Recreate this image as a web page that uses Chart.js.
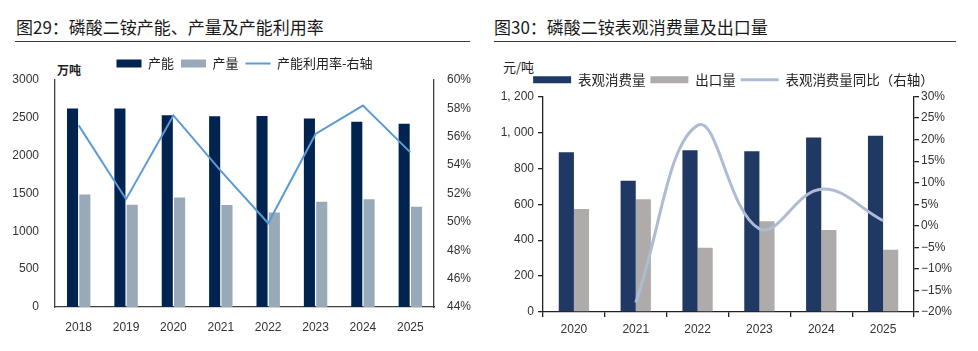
<!DOCTYPE html>
<html>
<head>
  <meta charset="utf-8">
  <title>磷酸二铵产能、产量及表观消费量</title>
  <style>
    body { margin: 0; background: #fff; font-family: "Liberation Sans", "Noto Sans CJK SC", sans-serif; }
    .page { position: relative; width: 978px; height: 351px; overflow: hidden; }
    .title { position: absolute; top: 14px; font-family: "Noto Sans CJK SC", sans-serif; font-size: 17px; color: #1a1a1a; white-space: nowrap; }
    .rule { position: absolute; top: 41px; height: 0; border-top: 1.3px solid #3a3a3a; }
    .unit { position: absolute; font-family: "Noto Sans CJK SC", sans-serif; font-size: 12px; color: #222; }
    .box { position: absolute; top: 50px; width: 489px; height: 301px; }
  </style>
</head>
<body>
  <div class="page">
    <div class="title" style="left:16px;">图29：磷酸二铵产能、产量及产能利用率</div>
    <div class="rule" style="left:15px; width:455px;"></div>
    <div class="unit" style="left:57px; top:61px; font-weight:bold;">万吨</div>
    <div class="box" style="left:0;"><canvas id="chartLeft"></canvas></div>

    <div class="title" style="left:494px;">图30：磷酸二铵表观消费量及出口量</div>
    <div class="rule" style="left:494px; width:462px;"></div>
    <div class="unit" style="left:503px; top:57px; font-size:13px;">元/吨</div>
    <div class="box" style="left:489px;"><canvas id="chartRight"></canvas></div>
  </div>

  <script src="https://cdn.jsdelivr.net/npm/chart.js"></script>
  <script>

    // 資料定義區塊 - 圖29
    const years29 = ['2018', '2019', '2020', '2021', '2022', '2023', '2024', '2025'];
    const capacity = [2625, 2625, 2533, 2520, 2525, 2490, 2447, 2421];
    const production = [1487, 1352, 1447, 1347, 1248, 1391, 1425, 1326];
    const utilization = [56.8, 51.6, 57.5, 53.6, 49.9, 56.2, 58.2, 54.9];
    const leftTicks29 = [0, 500, 1000, 1500, 2000, 2500, 3000];
    const rightTicks29 = [44, 46, 48, 50, 52, 54, 56, 58, 60];

    // 資料定義區塊 - 圖30
    const years30 = ['2020', '2021', '2022', '2023', '2024', '2025'];
    const consumption = [890, 731, 901, 895, 971, 982];
    const exportVol = [574, 628, 358, 506, 456, 347];
    const consumptionYoY = [null, -17.8, 23.3, -0.7, 8.5, 1.2];
    const leftTicks30 = [0, 200, 400, 600, 800, 1000, 1200];
    const rightTicks30 = [-20, -15, -10, -5, 0, 5, 10, 15, 20, 25, 30];

    // 樣式
    const tickFont = { family: '"Liberation Sans", "Noto Sans CJK SC"', size: 12 };
    const legendFont = { family: '"Noto Sans CJK SC", "Liberation Sans"', size: 13 };

    function fixWidth(w) {
      return function (scale) { scale.width = w; };
    }
    function fixHeight(h) {
      return function (scale) { scale.height = h; };
    }
    function useTicks(list) {
      return function (scale) {
        scale.ticks = list.map(v => ({ value: v }));
      };
    }

    // 圖29
    const config29 = {
      data: {
        labels: years29,
        datasets: [{
          type: 'line',
          label: '产能利用率-右轴',
          data: utilization,
          yAxisID: 'y1',
          borderColor: '#5b9bd5',
          backgroundColor: '#5b9bd5',
          borderWidth: 2,
          pointRadius: 0,
          pointStyle: 'line',
          tension: 0,
          order: 0
        }, {
          type: 'bar',
          label: '产能',
          data: capacity,
          yAxisID: 'y',
          backgroundColor: '#00234f',
          pointStyle: 'rect',
          categoryPercentage: 0.52,
          barPercentage: 0.9,
          order: 1
        }, {
          type: 'bar',
          label: '产量',
          data: production,
          yAxisID: 'y',
          backgroundColor: '#98a9ba',
          pointStyle: 'rect',
          categoryPercentage: 0.52,
          barPercentage: 0.9,
          order: 2
        }]
      },
      options: {
        responsive: true,
        maintainAspectRatio: false,
        animation: false,
        layout: { padding: { top: 0, left: 0, right: 0, bottom: 0 } },
        plugins: {
          tooltip: { enabled: false },
          legend: {
            display: true,
            labels: {
              usePointStyle: true,
              pointStyleWidth: 25,
              boxHeight: 8,
              padding: 7,
              color: '#222',
              font: legendFont,
              sort: (a, b) => {
                const order = ['产能', '产量', '产能利用率-右轴'];
                return order.indexOf(a.text) - order.indexOf(b.text);
              }
            }
          }
        },
        scales: {
          x: {
            grid: { display: false },
            border: { display: true, color: '#404040', width: 1.3 },
            ticks: { color: '#333', font: tickFont, padding: 5 },
            afterFit: fixHeight(44)
          },
          y: {
            position: 'left',
            min: 0,
            max: 3000,
            afterBuildTicks: useTicks(leftTicks29),
            grid: { display: false },
            border: { display: true, color: '#404040', width: 1.3 },
            ticks: { color: '#333', font: tickFont, padding: 8, callback: v => String(v) },
            afterFit: fixWidth(55)
          },
          y1: {
            position: 'right',
            min: 44,
            max: 60,
            afterBuildTicks: useTicks(rightTicks29),
            grid: { display: false },
            border: { display: true, color: '#404040', width: 1.3 },
            ticks: { color: '#333', font: tickFont, padding: 5, callback: v => v + '%' },
            afterFit: fixWidth(55)
          }
        }
      }
    };

    // 圖30
    const config30 = {
      data: {
        labels: years30,
        datasets: [{
          type: 'line',
          label: '表观消费量同比（右轴）',
          data: consumptionYoY,
          yAxisID: 'y1',
          borderColor: '#adbcd3',
          backgroundColor: '#adbcd3',
          borderWidth: 3,
          pointRadius: 0,
          pointStyle: 'line',
          tension: 0.4,
          order: 0
        }, {
          type: 'bar',
          label: '表观消费量',
          data: consumption,
          yAxisID: 'y',
          backgroundColor: '#203864',
          pointStyle: 'rect',
          categoryPercentage: 0.49,
          barPercentage: 1,
          order: 1
        }, {
          type: 'bar',
          label: '出口量',
          data: exportVol,
          yAxisID: 'y',
          backgroundColor: '#afabab',
          pointStyle: 'rect',
          categoryPercentage: 0.49,
          barPercentage: 1,
          order: 2
        }]
      },
      options: {
        responsive: true,
        maintainAspectRatio: false,
        animation: false,
        layout: { padding: { top: 18, left: 0, right: 0, bottom: 0 } },
        plugins: {
          tooltip: { enabled: false },
          legend: {
            display: true,
            labels: {
              usePointStyle: true,
              pointStyleWidth: 38,
              boxHeight: 7,
              padding: 5,
              color: '#222',
              font: { family: '"Noto Sans CJK SC", "Liberation Sans"', size: 13.5 },
              sort: (a, b) => {
                const order = ['表观消费量', '出口量', '表观消费量同比（右轴）'];
                return order.indexOf(a.text) - order.indexOf(b.text);
              }
            }
          }
        },
        scales: {
          x: {
            offset: true,
            grid: { display: true, offset: true, drawOnChartArea: false, drawTicks: true, tickLength: 5, color: '#222', lineWidth: 1.3 },
            border: { display: true, color: '#222', width: 1.3 },
            ticks: { color: '#333', font: { family: '"Liberation Sans"', size: 12 }, padding: 5 },
            afterFit: fixHeight(39)
          },
          y: {
            position: 'left',
            min: 0,
            max: 1200,
            afterBuildTicks: useTicks(leftTicks30),
            grid: { display: true, drawOnChartArea: false, tickLength: 5, color: '#222', lineWidth: 1.3 },
            border: { display: true, color: '#222', width: 1.3 },
            ticks: {
              color: '#333', font: { family: '"Liberation Sans"', size: 12 }, padding: 4,
              callback: v => v >= 1000 ? Math.floor(v / 1000) + ', ' + String(v % 1000).padStart(3, '0') : String(v)
            },
            afterFit: fixWidth(54)
          },
          y1: {
            position: 'right',
            min: -20,
            max: 30,
            afterBuildTicks: useTicks(rightTicks30),
            grid: { display: true, drawOnChartArea: false, tickLength: 5, color: '#222', lineWidth: 1.3 },
            border: { display: true, color: '#222', width: 1.3 },
            ticks: {
              color: '#333', font: { family: '"Liberation Sans"', size: 12 }, padding: 2,
              callback: v => (v < 0 ? '\u2212' + Math.abs(v) : v) + '%'
            },
            afterFit: fixWidth(64)
          }
        }
      }
    };

    // 渲染圖表區塊
    var ctxLeft = document.getElementById('chartLeft').getContext('2d');
    var chartLeft = new Chart(ctxLeft, config29);

    var ctxRight = document.getElementById('chartRight').getContext('2d');
    var chartRight = new Chart(ctxRight, config30);

  </script>
</body>
</html>
